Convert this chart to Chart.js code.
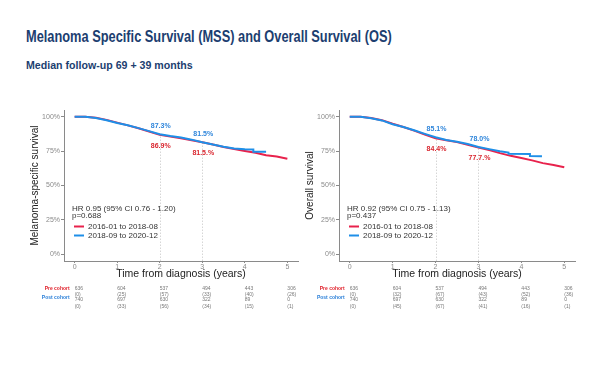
<!DOCTYPE html>
<html>
<head>
<meta charset="utf-8">
<script src="https://cdn.jsdelivr.net/npm/chart.js@4"></script>
<style>
body{margin:0;background:#fff;width:600px;height:365px;overflow:hidden;position:relative;font-family:"Liberation Sans",Arial,sans-serif}
.ttl{position:absolute;left:26px;color:#1c3e70;font-family:"Liberation Sans Narrow","Arial Narrow",sans-serif;font-weight:bold;white-space:nowrap;line-height:1;transform-origin:0 0}
#t1{top:28px;font-size:17px}
#t2{top:60px;font-size:11px}
.box{position:absolute;top:100px}
</style>
</head>
<body>
<div class="ttl" id="t1">Melanoma Specific Survival (MSS) and Overall Survival (OS)</div>
<div class="ttl" id="t2">Median follow-up 69 + 39 months</div>
<div class="box" style="left:20px"><canvas id="mss" width="280" height="220"></canvas></div>
<div class="box" style="left:300px"><canvas id="os" width="290" height="220"></canvas></div>
<script>
// KM curves (years, % surviving)
const seriesNames = ['2016-01 to 2018-08', '2018-09 to 2020-12'];
const xTicks = [0, 1, 2, 3, 4, 5];
const yTicks = [0, 25, 50, 75, 100];

const mssPreT = [0, 0.25, 0.5, 0.75, 1, 1.25, 1.5, 1.75, 2, 2.25, 2.5, 2.75, 3, 3.25, 3.5, 3.75, 4, 4.25, 4.5, 4.75, 5];
const mssPreS = [100, 100, 99.3, 97.8, 95.8, 93.8, 91.7, 89.3, 86.9, 85.6, 84.4, 83, 81.5, 79.8, 78.1, 76.6, 75.2, 73.8, 72, 71.1, 69.5];
const mssPostT = [0, 0.25, 0.5, 0.75, 1, 1.25, 1.5, 1.75, 2, 2.25, 2.5, 2.75, 3, 3.25, 3.5, 3.75, 4, 4.2, 4.2, 4.5];
const mssPostS = [100, 100, 99.2, 97.6, 95.6, 93.9, 91.8, 89.6, 87.3, 86, 85, 83.4, 81.5, 79.8, 78.3, 77, 76.4, 76.2, 74.6, 74.5];

const osPreT = [0, 0.25, 0.5, 0.75, 1, 1.25, 1.5, 1.75, 2, 2.25, 2.5, 2.75, 3, 3.25, 3.5, 3.75, 4, 4.25, 4.5, 4.75, 5];
const osPreS = [100, 100, 99.2, 97.6, 95, 92.6, 90, 87.2, 84.4, 83, 81.6, 79.6, 77.7, 75.8, 73.6, 71.6, 70, 68.3, 66.3, 65, 63.3];
const osPostT = [0, 0.25, 0.5, 0.75, 1, 1.25, 1.5, 1.75, 2, 2.25, 2.5, 2.75, 3, 3.25, 3.5, 3.7, 3.7, 4.2, 4.2, 4.48];
const osPostS = [100, 100, 99, 97.4, 94.6, 92.6, 90.2, 87.6, 85.1, 83.2, 81.8, 80.2, 78, 76.5, 75, 74, 73.2, 73, 71.4, 71.3];

// marked survival at 2 and 3 years
const mssMarks = [{t: 2, pre: 86.9, post: 87.3, preTxt: '86.9%', postTxt: '87.3%'},
                  {t: 3, pre: 81.5, post: 81.5, preTxt: '81.5.%', postTxt: '81.5%'}];
const osMarks = [{t: 2, pre: 84.4, post: 85.1, preTxt: '84.4%', postTxt: '85.1%'},
                 {t: 3, pre: 77.7, post: 78.0, preTxt: '77.7.%', postTxt: '78.0%'}];

// numbers at risk (censored in brackets)
const mssRisk = [['636', '604', '537', '494', '443', '306'], ['(0)', '(25)', '(57)', '(33)', '(40)', '(26)'],
                 ['740', '697', '630', '322', '89', '0'], ['(0)', '(33)', '(56)', '(34)', '(15)', '(1)']];
const osRisk = [['636', '604', '537', '494', '443', '306'], ['(0)', '(32)', '(67)', '(43)', '(52)', '(36)'],
                ['740', '697', '630', '322', '89', '0'], ['(0)', '(45)', '(67)', '(41)', '(16)', '(1)']];

const RED = '#e8224c';
const BLUE = '#1e8fe8';

const kmExtras = {
    id: 'kmExtras',
    beforeDatasetsDraw(chart, args, o) {
        const {ctx, scales: {x, y}} = chart;
        ctx.save();
        ctx.strokeStyle = '#d6d6d6';
        ctx.lineWidth = 1;
        ctx.setLineDash([1.5, 1.5]);
        o.marks.forEach(m => {
            const px = Math.round(x.getPixelForValue(m.t)) + 0.5;
            ctx.beginPath();
            ctx.moveTo(px, y.getPixelForValue(y.min));
            ctx.lineTo(px, y.getPixelForValue(Math.max(m.pre, m.post)));
            ctx.stroke();
        });
        ctx.restore();
    },
    afterDatasetsDraw(chart, args, o) {
        const {ctx, chartArea, scales: {x, y}} = chart;
        ctx.save();
        // 2y / 3y labels
        ctx.font = 'bold 7px "Liberation Sans Narrow", "Liberation Sans", Arial';
        ctx.textAlign = 'center';
        ctx.textBaseline = 'middle';
        o.marks.forEach(m => {
            const px = x.getPixelForValue(m.t) + 1;
            ctx.fillStyle = '#2f86db';
            ctx.fillText(m.postTxt, px, y.getPixelForValue(m.post) - 8.5);
            ctx.fillStyle = '#d9262f';
            ctx.fillText(m.preTxt, px, y.getPixelForValue(m.pre) + 11);
        });
        // HR text + legend
        const lx = chartArea.left + 8;
        ctx.textAlign = 'left';
        ctx.fillStyle = '#333';
        ctx.font = '8px "Liberation Sans", Arial';
        ctx.fillText(o.hr, lx, chartArea.top + 98.5);
        ctx.fillText(o.p, lx, chartArea.top + 105.5);
        [RED, BLUE].forEach((c, i) => {
            const ly = chartArea.top + 116.5 + i * 9;
            ctx.strokeStyle = c;
            ctx.lineWidth = 2;
            ctx.beginPath();
            ctx.moveTo(lx + 2, ly);
            ctx.lineTo(lx + 12, ly);
            ctx.stroke();
            ctx.fillStyle = '#333';
            ctx.fillText(seriesNames[i], lx + 16, ly);
        });
        // risk table
        const b = chartArea.bottom;
        const x0 = x.getPixelForValue(0);
        ctx.font = 'bold 5px "Liberation Sans", Arial';
        ctx.textAlign = 'right';
        ctx.fillStyle = '#e0202a';
        ctx.fillText('Pre cohort', x0 - 5, b + 27.7);
        ctx.fillStyle = '#2a7fd8';
        ctx.fillText('Post cohort', x0 - 5, b + 36.7);
        ctx.font = '5px "Liberation Sans", Arial';
        ctx.textAlign = 'left';
        ctx.fillStyle = '#777';
        const rowY = [27.7, 34, 38.3, 46];
        o.risk.forEach((row, r) => {
            row.forEach((v, i) => {
                ctx.fillText(v, x.getPixelForValue(xTicks[i]), b + rowY[r]);
            });
        });
        ctx.restore();
    }
};

function makeChart(id, yTitle, preT, preS, postT, postS, info, lay) {
    const pts = (t, s) => t.map((v, i) => ({x: v, y: s[i]}));
    const tickFont = {family: '"Liberation Sans", Arial', size: 7};
    return new Chart(document.getElementById(id), {
        type: 'line',
        data: {
            datasets: [
                {label: seriesNames[0], data: pts(preT, preS), borderColor: RED, borderWidth: 2, pointRadius: 0, order: 2},
                {label: seriesNames[1], data: pts(postT, postS), borderColor: BLUE, borderWidth: 2, pointRadius: 0, order: 1},
            ],
        },
        options: {
            responsive: false,
            animation: false,
            layout: {padding: {left: lay.left, top: 10, right: lay.right, bottom: 40}},
            plugins: {legend: {display: false}, tooltip: {enabled: false}, kmExtras: info},
            scales: {
                x: {
                    type: 'linear', min: -0.25, max: 5.25,
                    afterBuildTicks: s => { s.ticks = xTicks.map(v => ({value: v})); },
                    afterFit: s => { s.height = 19; },
                    ticks: {font: tickFont, color: '#8a8a8a', padding: 0, maxRotation: 0},
                    grid: {drawOnChartArea: false, tickLength: 2, color: '#8a8a8a'},
                    border: {color: '#8a8a8a'},
                    title: {display: true, text: 'Time from diagnosis (years)', color: '#222',
                            font: {family: '"Liberation Sans", Arial', size: 10.5}, padding: 0},
                },
                y: {
                    min: -5, max: 105,
                    afterBuildTicks: s => { s.ticks = yTicks.map(v => ({value: v})); },
                    afterFit: s => { s.width = lay.yw; },
                    ticks: {font: tickFont, color: '#8a8a8a', padding: 1, callback: v => v + '%'},
                    grid: {drawOnChartArea: false, tickLength: 3, color: '#8a8a8a'},
                    border: {color: '#8a8a8a'},
                    title: {display: true, text: yTitle, color: '#222',
                            font: {family: '"Liberation Sans Narrow", "Liberation Sans", Arial', size: 10}, padding: 0},
                },
            },
        },
        plugins: [kmExtras],
    });
}

makeChart('mss', 'Melanoma-specific survival', mssPreT, mssPreS, mssPostT, mssPostS,
    {hr: 'HR 0.95 (95% CI 0.76 - 1.20)', p: 'p=0.688', marks: mssMarks, risk: mssRisk},
    {left: 9, right: 2, yw: 35});
makeChart('os', 'Overall survival', osPreT, osPreS, osPostT, osPostS,
    {hr: 'HR 0.92 (95% CI 0.75 - 1.13)', p: 'p=0.437', marks: osMarks, risk: osRisk},
    {left: 4, right: 15, yw: 35});

// squeeze the headings to the reference widths
[['t1', 366], ['t2', 167]].forEach(([id, w]) => {
    const el = document.getElementById(id);
    el.style.transform = 'scaleX(' + (w / el.offsetWidth) + ')';
});
</script>
</body>
</html>
